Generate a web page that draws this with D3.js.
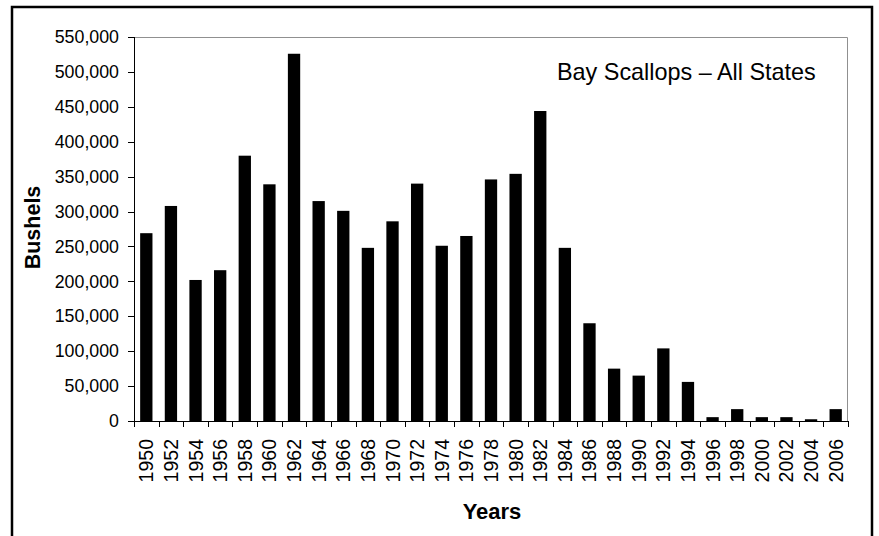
<!DOCTYPE html>
<html>
<head>
<meta charset="utf-8">
<script src="https://cdn.jsdelivr.net/npm/d3@7"></script>
<style>
  body { margin: 0; background: #fff; }
  svg text { font-family: "Liberation Sans", Arial, sans-serif; fill: #000; }
  .axis path, .axis line { stroke: #000; shape-rendering: crispEdges; }
</style>
</head>
<body>
<div id="chart"></div>
<script>
// bushels landed, every other year
var years = [1950,1952,1954,1956,1958,1960,1962,1964,1966,1968,1970,1972,1974,1976,1978,
             1980,1982,1984,1986,1988,1990,1992,1994,1996,1998,2000,2002,2004,2006]
var bushels = [269000,308000,202000,216000,380000,339000,526000,315000,301000,248000,286000,340000,251000,265000,346000,
               354000,444000,248000,140000,75000,65000,104000,56000,5500,17000,5500,5500,2500,17000]
var yTicks = [0,50000,100000,150000,200000,250000,300000,350000,400000,450000,500000,550000]

var title = "Bay Scallops – All States"

var W = 879, H = 536
var margin = {left: 134, right: 31, top: 37, bottom: 115}
var width = W - margin.left - margin.right
var height = H - margin.top - margin.bottom

var svg = d3.select('#chart').append('svg')
  .attr('width', W).attr('height', H)

// outer chart frame (bottom edge falls outside the picture)
svg.append('rect')
  .attr('x', 12).attr('y', 7)
  .attr('width', 860).attr('height', 600)
  .attr('fill', 'none').attr('stroke', '#000').attr('stroke-width', 2.5)

var g = svg.append('g').attr('transform', 'translate(' + margin.left + ',' + margin.top + ')')

var x = d3.scaleBand().domain(years).range([0, width]).paddingInner(0.5).paddingOuter(0.25)
var y = d3.scaleLinear().domain([0, 550000]).range([height, 0])

// plot area border (top + right)
g.append('path')
  .attr('d', 'M0,0.5H' + (width - 0.5) + 'V' + height)
  .attr('fill', 'none').attr('stroke', '#909090').attr('stroke-width', 1)

g.selectAll('rect.bar')
  .data(years)
  .enter().append('rect')
  .attr('class', 'bar')
  .attr('x', function(d){ return x(d) })
  .attr('width', x.bandwidth())
  .attr('y', function(d, i){ return y(bushels[i]) })
  .attr('height', function(d, i){ return height - y(bushels[i]) })
  .attr('fill', '#000')

// y axis
var yAxis = g.append('g').attr('class', 'axis')
  .call(d3.axisLeft(y).tickValues(yTicks).tickFormat(d3.format(',')).tickSizeOuter(0).tickSize(6).tickPadding(9))
yAxis.selectAll('text').style('font-size', '17.8px')

// x axis: ticks between categories, labels rotated
var xa = g.append('g').attr('class', 'axis').attr('transform', 'translate(0,' + height + ')')
xa.append('line').attr('x1', 0).attr('x2', width).attr('y1', 0.5).attr('y2', 0.5)
var step = x.step()
xa.selectAll('line.tick')
  .data(d3.range(years.length + 1))
  .enter().append('line')
  .attr('class', 'tick')
  .attr('x1', function(i){ return Math.round(i * step) + 0.5 })
  .attr('x2', function(i){ return Math.round(i * step) + 0.5 })
  .attr('y1', 0).attr('y2', 6)

xa.selectAll('text')
  .data(years)
  .enter().append('text')
  .attr('transform', function(d){ return 'translate(' + (x(d) + x.bandwidth() / 2 + 7) + ',18) rotate(-90)' })
  .attr('text-anchor', 'end')
  .style('font-size', '19.5px')
  .text(function(d){ return d })

// axis titles
svg.append('text')
  .attr('transform', 'translate(40,227.5) rotate(-90)')
  .attr('text-anchor', 'middle')
  .style('font-size', '21.5px').style('font-weight', 'bold')
  .text('Bushels')

svg.append('text')
  .attr('x', 492).attr('y', 519)
  .attr('text-anchor', 'middle')
  .style('font-size', '22px').style('font-weight', 'bold')
  .text('Years')

svg.append('text')
  .attr('x', 557).attr('y', 80)
  .style('font-size', '23.4px')
  .text(title)
</script>
</body>
</html>
